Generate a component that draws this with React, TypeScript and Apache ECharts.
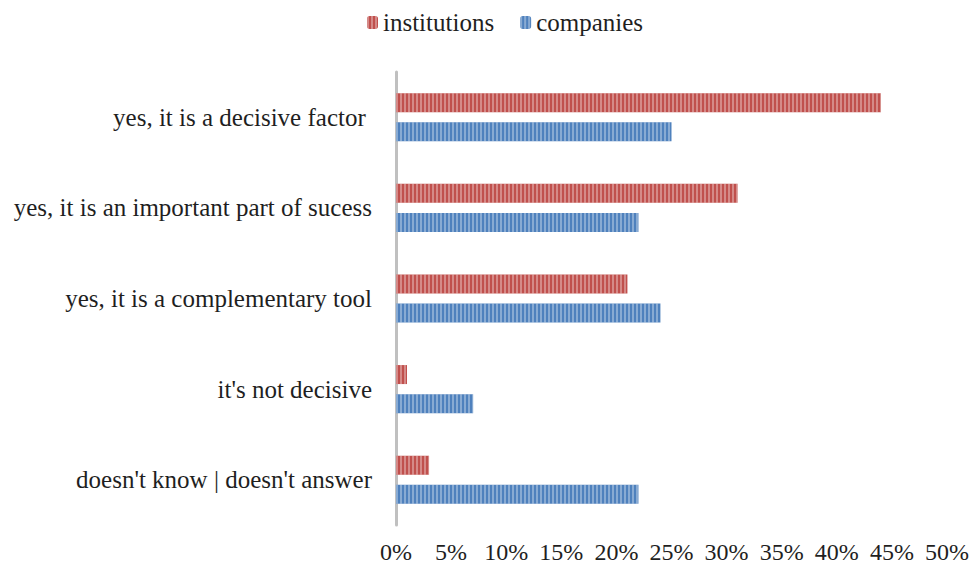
import React, { useEffect, useRef } from "react";
import * as echarts from "echarts";

const categories = [
  "doesn't know | doesn't answer",
  "it's not decisive",
  "yes, it is a complementary tool",
  "yes, it is an important part of sucess",
  "yes, it is a decisive factor ",
];
const institutions = [3, 1, 21, 31, 44];
const companies = [22, 7, 24, 22, 25];
const seriesNames = ["institutions", "companies"];

const FONT = "'Liberation Serif', 'Times New Roman', serif";

export default function App() {
  const ref = useRef<HTMLDivElement>(null);
  useEffect(() => {
    if (!ref.current) return;
    const chart = echarts.init(ref.current, undefined, { renderer: "svg" });
    const decal = {
      symbol: "rect",
      symbolSize: 1,
      dashArrayX: [2, 1.6],
      dashArrayY: [1, 0],
      color: "rgba(255,255,255,0.33)",
    };
    chart.setOption({
      animation: false,
      textStyle: { fontFamily: FONT },
      legend: {
        top: 5,
        left: 362,
        itemWidth: 11,
        itemHeight: 13,
        itemGap: 26,
        textStyle: { fontFamily: FONT, fontSize: 25, color: "#1f1f1f" },
        data: seriesNames,
      },
      grid: { left: 396, right: 27, top: 72, bottom: 44, containLabel: false },
      xAxis: {
        type: "value",
        min: 0,
        max: 50,
        interval: 5,
        axisLine: { show: false },
        axisTick: { show: false },
        splitLine: { show: false },
        axisLabel: {
          formatter: "{value}%",
          fontFamily: FONT,
          fontSize: 24,
          color: "#1f1f1f",
          margin: 15,
        },
      },
      yAxis: {
        type: "category",
        data: categories,
        axisLine: { show: true, lineStyle: { color: "#c0c0c0", width: 3 } },
        axisTick: { show: false },
        axisLabel: {
          fontFamily: FONT,
          fontSize: 25,
          color: "#1f1f1f",
          margin: 24,
        },
      },
      series: [
        {
          name: seriesNames[0],
          type: "bar",
          data: institutions,
          barWidth: 19,
          barGap: "53%",
          itemStyle: { color: "#c0504d", decal },
        },
        {
          name: seriesNames[1],
          type: "bar",
          data: companies,
          barWidth: 19,
          itemStyle: { color: "#4f81bd", decal },
        },
      ],
    });
    return () => chart.dispose();
  }, []);
  return (
    <div
      ref={ref}
      style={{ position: "fixed", left: 0, top: 0, width: 974, height: 569, background: "#fff" }}
    />
  );
}
